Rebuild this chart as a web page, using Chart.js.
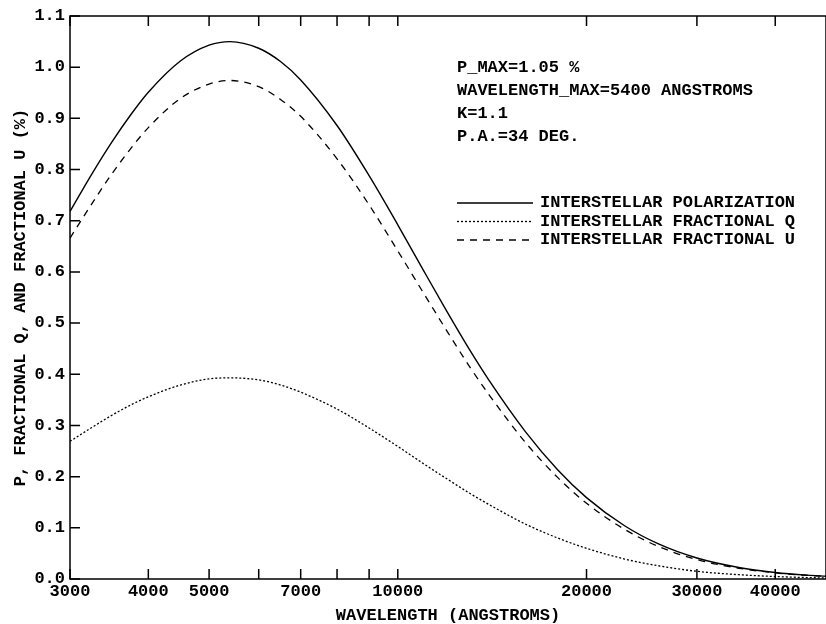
<!DOCTYPE html>
<html>
<head>
<meta charset="utf-8">
<script src="https://cdn.jsdelivr.net/npm/chart.js@4.4.1/dist/chart.umd.min.js"></script>
<style>
  html, body { margin: 0; padding: 0; background: #fff; }
  canvas { display: block; }
</style>
</head>
<body>
<canvas id="polChart" width="826" height="624"></canvas>
<script>
// wavelengths (angstroms) and curve values
var wavelengths = [3000, 3250, 3500, 3750, 4000, 4500, 5000, 5400, 6000, 6500, 7000, 8000, 9000, 10000,
    11000, 12000, 13000, 14000, 16000, 18000, 20000, 23000, 26000, 30000, 35000, 40000, 45000, 48200];
var polarization = [0.718, 0.791, 0.854, 0.907, 0.951, 1.012, 1.043, 1.050, 1.037, 1.011, 0.975, 0.886, 0.788, 0.692,
    0.602, 0.521, 0.449, 0.387, 0.287, 0.213, 0.159, 0.104, 0.069, 0.041, 0.0225, 0.0128, 0.0075, 0.0054];
var fractionalQ = [0.269, 0.296, 0.320, 0.340, 0.356, 0.379, 0.391, 0.393, 0.389, 0.379, 0.365, 0.332, 0.295, 0.259,
    0.225, 0.195, 0.168, 0.145, 0.107, 0.080, 0.060, 0.039, 0.026, 0.015, 0.0084, 0.0048, 0.0028, 0.0020];
var fractionalU = [0.666, 0.733, 0.792, 0.841, 0.882, 0.939, 0.967, 0.974, 0.962, 0.937, 0.904, 0.821, 0.731, 0.641,
    0.558, 0.483, 0.416, 0.359, 0.266, 0.198, 0.148, 0.097, 0.064, 0.038, 0.021, 0.012, 0.007, 0.005];

var xTicks = [3000, 4000, 5000, 6000, 7000, 8000, 9000, 10000, 20000, 30000, 40000];
var xLabels = [3000, 4000, 5000, 7000, 10000, 20000, 30000, 40000];
var notes = ['P_MAX=1.05 %', 'WAVELENGTH_MAX=5400 ANGSTROMS', 'K=1.1', 'P.A.=34 DEG.'];
var seriesNames = ['INTERSTELLAR POLARIZATION', 'INTERSTELLAR FRACTIONAL Q', 'INTERSTELLAR FRACTIONAL U'];
var seriesDash = [[], [2, 2], [7, 6]];

var FONT = "'Liberation Mono', 'Courier New', monospace";
Chart.defaults.font.family = FONT;
Chart.defaults.font.size = 17;
Chart.defaults.font.weight = 'bold';
Chart.defaults.color = '#000';

function pts(vals) {
    return wavelengths.map(function (w, i) { return { x: w, y: vals[i] }; });
}

// frame, inward ticks, notes and legend
var framePlugin = {
    id: 'frame',
    afterDatasetsDraw: function (chart) {
        var ctx = chart.ctx, a = chart.chartArea;
        var xs = chart.scales.x, ys = chart.scales.y;
        ctx.save();
        ctx.strokeStyle = '#000';
        ctx.lineWidth = 1.5;
        ctx.strokeRect(a.left, a.top, a.right - a.left, a.bottom - a.top);
        ctx.beginPath();
        xTicks.forEach(function (v) {
            var px = xs.getPixelForValue(v);
            ctx.moveTo(px, a.bottom); ctx.lineTo(px, a.bottom - 10);
            ctx.moveTo(px, a.top); ctx.lineTo(px, a.top + 10);
        });
        ys.ticks.forEach(function (t) {
            var py = ys.getPixelForValue(t.value);
            ctx.moveTo(a.left, py); ctx.lineTo(a.left + 10, py);
        });
        ctx.stroke();

        ctx.fillStyle = '#000';
        ctx.font = 'bold 17px ' + FONT;
        ctx.textBaseline = 'middle';
        ctx.textAlign = 'left';
        notes.forEach(function (s, i) {
            ctx.fillText(s, 457, 68 + i * 23);
        });
        seriesNames.forEach(function (s, i) {
            var y = 203 + i * 18.5;
            ctx.beginPath();
            ctx.lineWidth = 1.3;
            ctx.setLineDash(seriesDash[i]);
            ctx.moveTo(457, y); ctx.lineTo(533, y);
            ctx.stroke();
            ctx.setLineDash([]);
            ctx.fillText(s, 540, y);
        });
        ctx.restore();
    }
};

var ctx = document.getElementById('polChart').getContext('2d');
var polChart = new Chart(ctx, {
    type: 'line',
    data: {
        datasets: [{
            label: seriesNames[0],
            data: pts(polarization),
            borderColor: '#000',
            borderWidth: 1.4,
            borderDash: seriesDash[0]
        }, {
            label: seriesNames[1],
            data: pts(fractionalQ),
            borderColor: '#000',
            borderWidth: 1.3,
            borderDash: seriesDash[1]
        }, {
            label: seriesNames[2],
            data: pts(fractionalU),
            borderColor: '#000',
            borderWidth: 1.3,
            borderDash: seriesDash[2]
        }]
    },
    options: {
        responsive: false,
        animation: false,
        layout: { padding: { top: 16, right: 0, bottom: 0, left: 0 } },
        elements: {
            point: { radius: 0 },
            line: { cubicInterpolationMode: 'monotone', fill: false }
        },
        plugins: {
            legend: { display: false },
            tooltip: { enabled: false }
        },
        scales: {
            x: {
                type: 'logarithmic',
                min: 3000,
                max: 48200,
                afterBuildTicks: function (scale) {
                    scale.ticks = xTicks.map(function (v) { return { value: v }; });
                },
                afterFit: function (scale) {
                    scale.height = 45;
                    scale.paddingLeft = 0;
                    scale.paddingRight = 0;
                },
                ticks: {
                    autoSkip: false,
                    maxRotation: 0,
                    padding: 3,
                    callback: function (v) { return xLabels.indexOf(v) >= 0 ? String(v) : ''; }
                },
                grid: { display: false, tickLength: 0 },
                border: { display: false },
                title: {
                    display: true,
                    text: 'WAVELENGTH (ANGSTROMS)',
                    font: { size: 17, weight: 'bold', lineHeight: 1 },
                    padding: { top: 0, bottom: 0 }
                }
            },
            y: {
                min: 0,
                max: 1.1,
                afterFit: function (scale) {
                    scale.width = 70;
                    scale.paddingTop = 0;
                    scale.paddingBottom = 0;
                },
                ticks: {
                    stepSize: 0.1,
                    padding: 5,
                    callback: function (v) { return v.toFixed(1); }
                },
                grid: { display: false, tickLength: 0 },
                border: { display: false },
                title: {
                    display: true,
                    text: 'P, FRACTIONAL Q, AND FRACTIONAL U (%)',
                    padding: { top: 11, bottom: 0 }
                }
            }
        }
    },
    plugins: [framePlugin]
});
</script>
</body>
</html>
